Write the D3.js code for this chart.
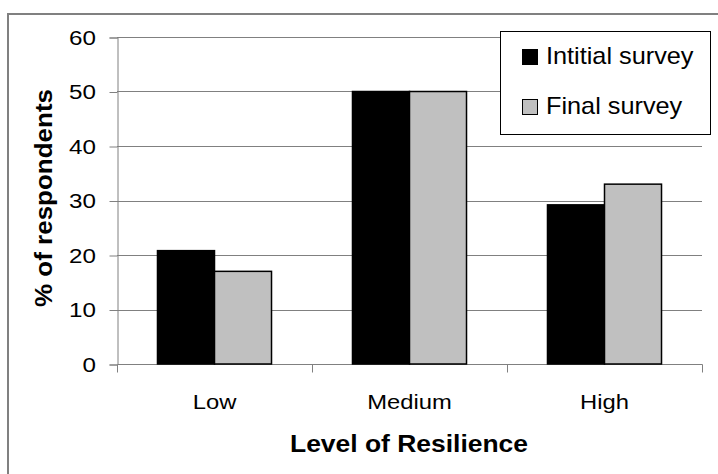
<!DOCTYPE html>
<html>
<head>
<meta charset="utf-8">
<script src="https://cdn.jsdelivr.net/npm/d3@7"></script>
<style>
  html, body { margin: 0; padding: 0; background: #fff; }
  svg { display: block; }
  text { font-family: "Liberation Sans", Arial, sans-serif; fill: #000; }
</style>
</head>
<body>
<svg id="chart" width="718" height="474"></svg>
<script>
// Resilience levels and survey results (% of respondents)
const categories = ["Low", "Medium", "High"];
const seriesNames = ["Intitial survey", "Final survey"];
const initialSurvey = [20.8, 50, 29.2];
const finalSurvey = [17, 50, 33];
const yTicks = [0, 10, 20, 30, 40, 50, 60];
const yTitle = "% of respondents";
const xTitle = "Level of Resilience";

const seriesValues = [initialSurvey, finalSurvey];
const seriesFill = ["#000000", "#c0c0c0"];

const svg = d3.select("#chart");

// Outer chart frame
svg.append("rect")
  .attr("x", 8).attr("y", 14)
  .attr("width", 730).attr("height", 480)
  .attr("fill", "#fff")
  .attr("stroke", "#808080")
  .attr("stroke-width", 2);

const plot = { left: 117, right: 702, top: 37, bottom: 364 };

const x = d3.scaleBand()
  .domain(categories)
  .range([plot.left, plot.right])
  .padding(0);

const xSub = d3.scaleBand()
  .domain(seriesNames)
  .range([0, x.bandwidth()])
  .paddingInner(0)
  .paddingOuter(0.71);

const y = d3.scaleLinear()
  .domain([0, 60])
  .range([plot.bottom, plot.top]);

// Horizontally widened text, as the chart's fonts are drawn
function stretchedText(parent, tx, ty, str, opts) {
  const g = parent.append("g")
    .attr("transform", `translate(${tx},${ty})${opts.rotate ? " rotate(" + opts.rotate + ")" : ""} scale(${opts.sx},1)`);
  g.append("text")
    .attr("x", 0).attr("y", 0)
    .attr("text-anchor", opts.anchor || "middle")
    .attr("font-size", opts.size)
    .attr("font-weight", opts.weight || "normal")
    .text(str);
  return g;
}

// Gridlines
svg.append("g")
  .selectAll("line")
  .data(yTicks.filter(d => d > 0))
  .join("line")
  .attr("x1", plot.left).attr("x2", plot.right)
  .attr("y1", d => Math.round(y(d)) + 0.5)
  .attr("y2", d => Math.round(y(d)) + 0.5)
  .attr("stroke", "#808080")
  .attr("stroke-width", 1);

// Y axis
const yAxis = d3.axisLeft(y)
  .tickValues(yTicks)
  .tickSize(8)
  .tickFormat("");
const yAxisG = svg.append("g")
  .attr("transform", `translate(${plot.left + 0.5},0.5)`)
  .call(yAxis);
yAxisG.select(".domain").attr("stroke", "#808080");
yAxisG.selectAll(".tick line").attr("stroke", "#808080");

yTicks.forEach(t => {
  stretchedText(svg, 96, y(t) + 7.5, String(t), { sx: 1.18, size: 20.5, anchor: "end" });
});

// X axis with ticks at category boundaries
const xAxisG = svg.append("g")
  .attr("transform", `translate(0.5,${plot.bottom + 0.5})`);
xAxisG.append("line")
  .attr("x1", plot.left).attr("x2", plot.right)
  .attr("stroke", "#808080");
const boundaries = [plot.left].concat(categories.map(c => x(c) + x.bandwidth()));
xAxisG.selectAll("line.tick")
  .data(boundaries)
  .join("line")
  .attr("class", "tick")
  .attr("x1", d => Math.round(d)).attr("x2", d => Math.round(d))
  .attr("y1", 0).attr("y2", 8)
  .attr("stroke", "#808080");

categories.forEach(c => {
  stretchedText(svg, x(c) + x.bandwidth() / 2, 409, c, { sx: 1.16, size: 20.5 });
});

// Bars
const groups = svg.append("g")
  .selectAll("g")
  .data(categories)
  .join("g")
  .attr("transform", c => `translate(${x(c)},0)`);

groups.selectAll("rect")
  .data((c, i) => seriesNames.map((s, j) => ({ s, v: seriesValues[j][i], j })))
  .join("rect")
  .attr("x", d => xSub(d.s))
  .attr("y", d => y(d.v))
  .attr("width", xSub.bandwidth())
  .attr("height", d => y(0) - y(d.v))
  .attr("fill", d => seriesFill[d.j])
  .attr("stroke", "#000")
  .attr("stroke-width", 1.5);

// Axis titles
stretchedText(svg, 409, 452, xTitle, { sx: 1.15, size: 23, weight: "bold" });
stretchedText(svg, 52, 198, yTitle, { sx: 1.13, size: 23, weight: "bold", rotate: -90 });

// Legend
const legend = svg.append("g");
legend.append("rect")
  .attr("x", 500.5).attr("y", 31.5)
  .attr("width", 210).attr("height", 103)
  .attr("fill", "#fff")
  .attr("stroke", "#000")
  .attr("stroke-width", 1);
seriesNames.forEach((s, j) => {
  const rowY = 49 + j * 50;
  legend.append("rect")
    .attr("x", 522.5).attr("y", rowY + 0.5)
    .attr("width", 15).attr("height", 15)
    .attr("fill", seriesFill[j])
    .attr("stroke", "#000")
    .attr("stroke-width", 1);
  stretchedText(legend, 546, rowY + 15, s, { sx: 1.1, size: 23, anchor: "start" });
});
</script>
</body>
</html>
